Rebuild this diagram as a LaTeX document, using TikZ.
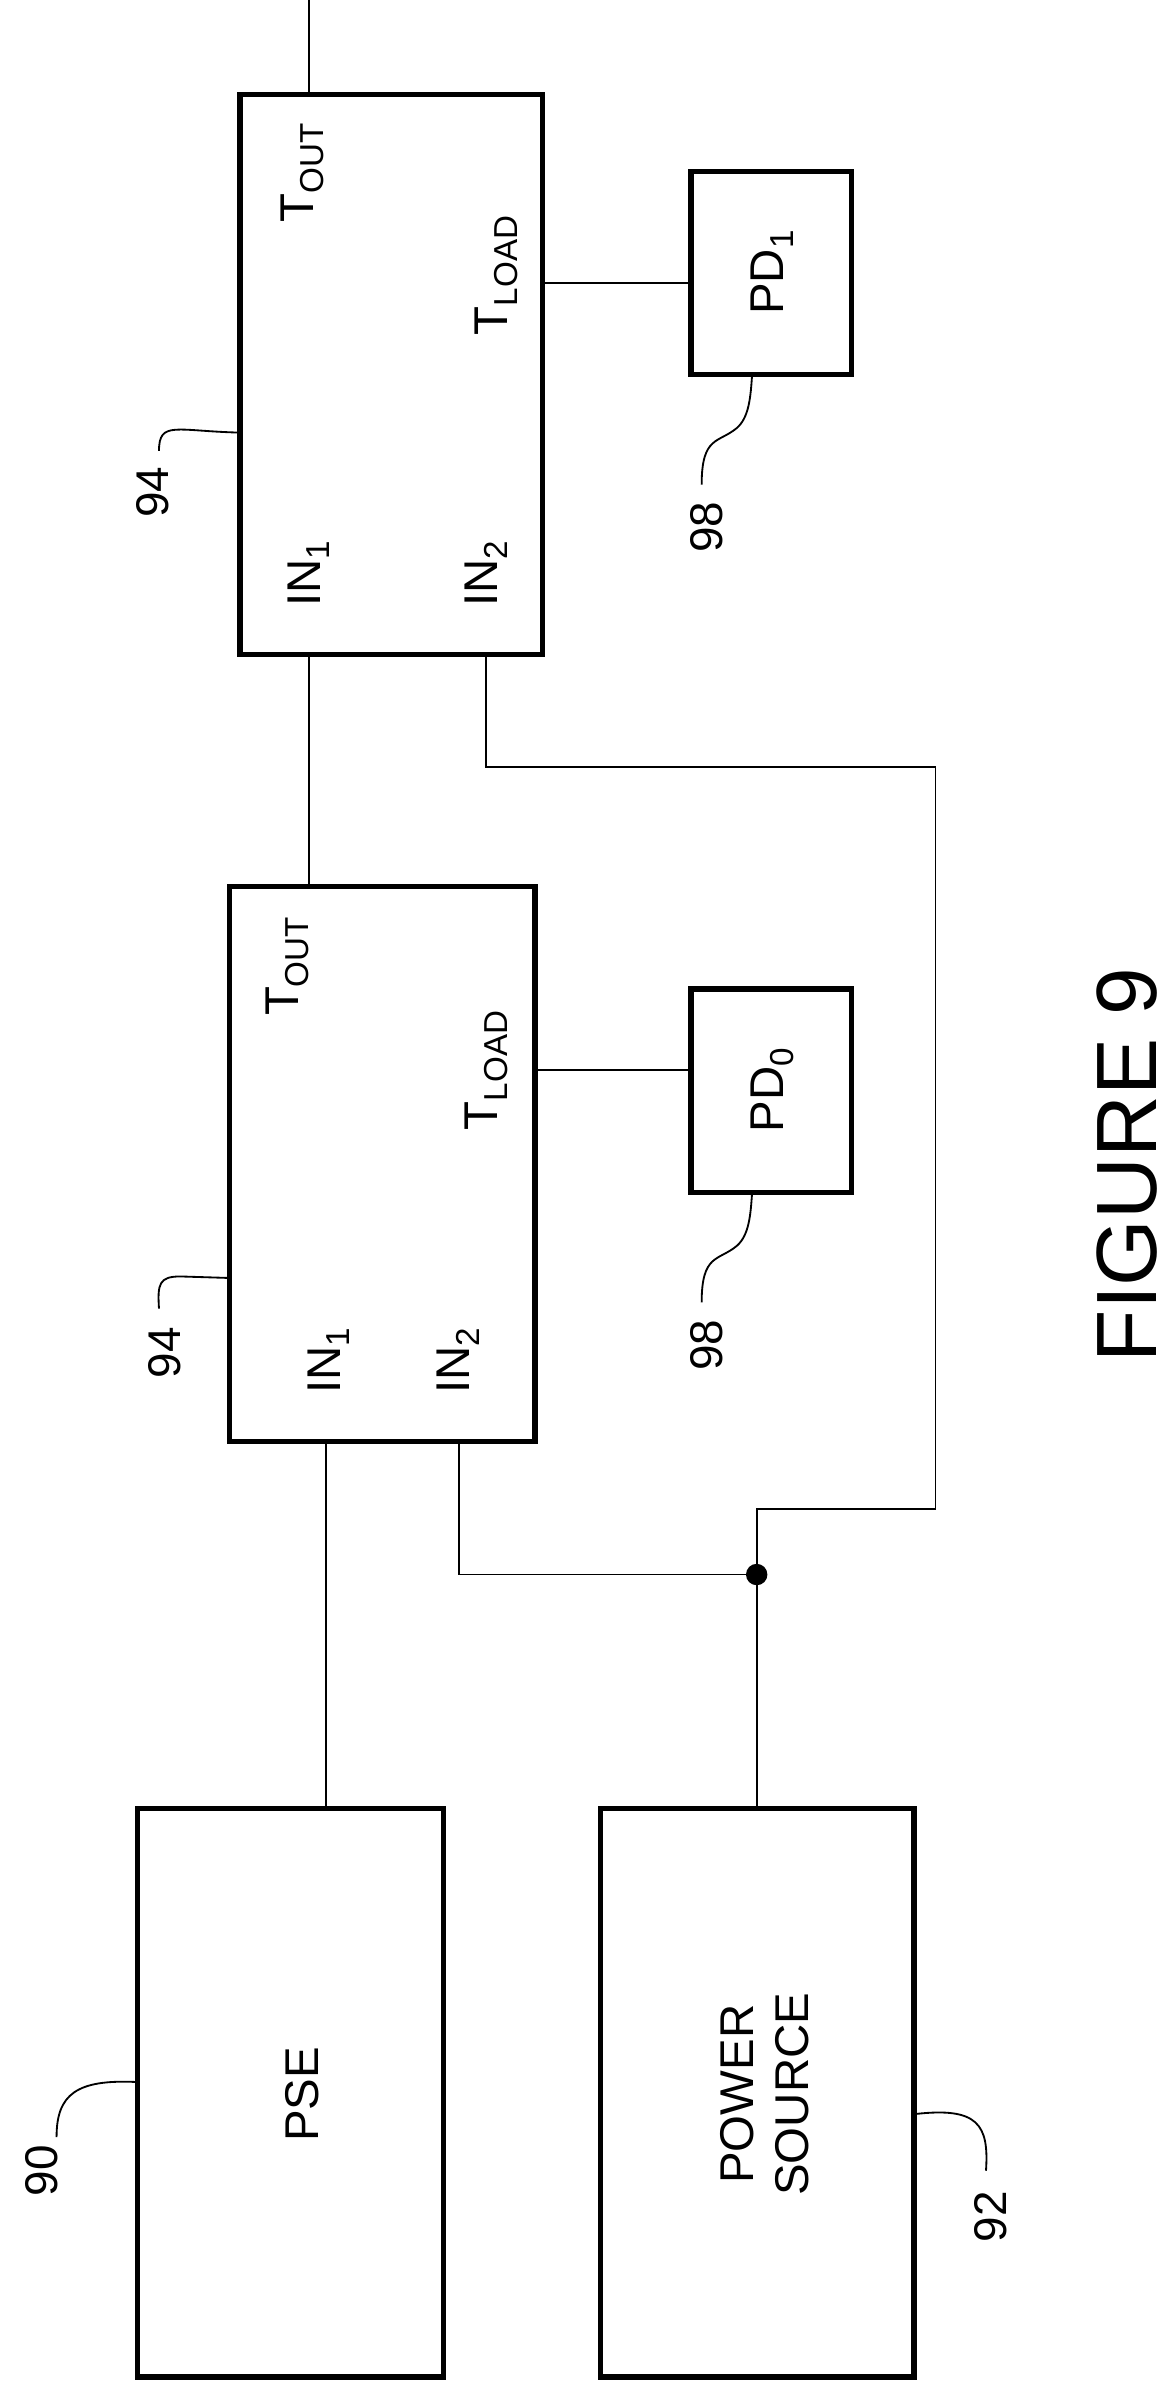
\documentclass[tikz,border=0pt]{standalone}
\usepackage{fontspec}
\setmainfont{Liberation Sans}
\begin{document}
\begin{tikzpicture}[x=1pt,y=-1pt,
  box/.style={draw,line width=3.5pt,inner sep=0pt},
  wire/.style={line width=1.2pt},
  lead/.style={line width=1.2pt},
  lbl/.style={rotate=90,font=\fontsize{31}{36}\selectfont},
  ref/.style={rotate=90,font=\fontsize{30}{34}\selectfont}]
\useasboundingbox (0,0) rectangle (767,1570);
% boxes
\draw[box] (90,1183) rectangle (290,1555);
\draw[box] (393,1183) rectangle (598,1555);
\draw[box] (150,580) rectangle (350,943);
\draw[box] (157,62) rectangle (355,428);
\draw[box] (452,647) rectangle (557,780);
\draw[box] (452,112) rectangle (557,245);
\coordinate (pseT) at (213,1183);
\coordinate (psT) at (495,1183);
\node[lbl] (pse) at (198,1370) {PSE};
\node[lbl,align=center] (ps) at (500,1370) {POWER\\SOURCE};
\node[lbl] (ina1) at (215,890) {IN\textsubscript{1}};
\node[lbl] (ina2) at (300,890) {IN\textsubscript{2}};
\node[lbl] (touta) at (188,632) {T\textsubscript{OUT}};
\node[lbl] (tloada) at (318,700) {T\textsubscript{LOAD}};
\node[lbl] (inb1) at (202,375) {IN\textsubscript{1}};
\node[lbl] (inb2) at (318,375) {IN\textsubscript{2}};
\node[lbl] (toutb) at (198,113) {T\textsubscript{OUT}};
\node[lbl] (tloadb) at (325,180) {T\textsubscript{LOAD}};
\node[lbl] (pd0) at (505,713) {PD\textsubscript{0}};
\node[lbl] (pd1) at (505,178) {PD\textsubscript{1}};
\node[rotate=90,font=\fontsize{56}{60}\selectfont] (fig) at (737,762) {FIGURE 9};
% wires
\coordinate (j) at (495,1030);
\draw[wire] (pseT) -- (213,943);
\draw[wire] (202,580) -- (202,428);
\draw[wire] (202,62) -- (202,0);
\draw[wire] (psT) -- (j) -- (495,987) -- (612,987) -- (612,502) -- (318,502) -- (318,428);
\draw[wire] (j) -- (300,1030) -- (300,943);
\fill (j) circle (7);
\draw[wire] (350,700) -- (452,700);
\draw[wire] (355,185) -- (452,185);
% reference labels
\node[ref] (r90) at (27,1420) {90};
\draw[lead] (37,1398) .. controls (37,1370) and (50,1360) .. (90,1362);
\node[ref] (r92) at (648,1450) {92};
\draw[lead] (598,1383) .. controls (640,1378) and (647,1390) .. (645,1420);
\node[ref] (r94a) at (108,885) {94};
\draw[lead] (104,856) .. controls (103,840) and (104,835) .. (118,835) -- (150,836);
\node[ref] (r94b) at (100,322) {94};
\draw[lead] (104,295) .. controls (104,275) and (115,282) .. (157,283);
\node[ref] (r98a) at (462,880) {98};
\draw[lead] (459,852) .. controls (459,820) and (470,825) .. (482,815) .. controls (490,808) and (491,795) .. (492,780);
\node[ref] (r98b) at (462,345) {98};
\draw[lead] (459,317) .. controls (459,285) and (470,290) .. (482,280) .. controls (490,273) and (491,260) .. (492,245);
\end{tikzpicture}
\end{document}
